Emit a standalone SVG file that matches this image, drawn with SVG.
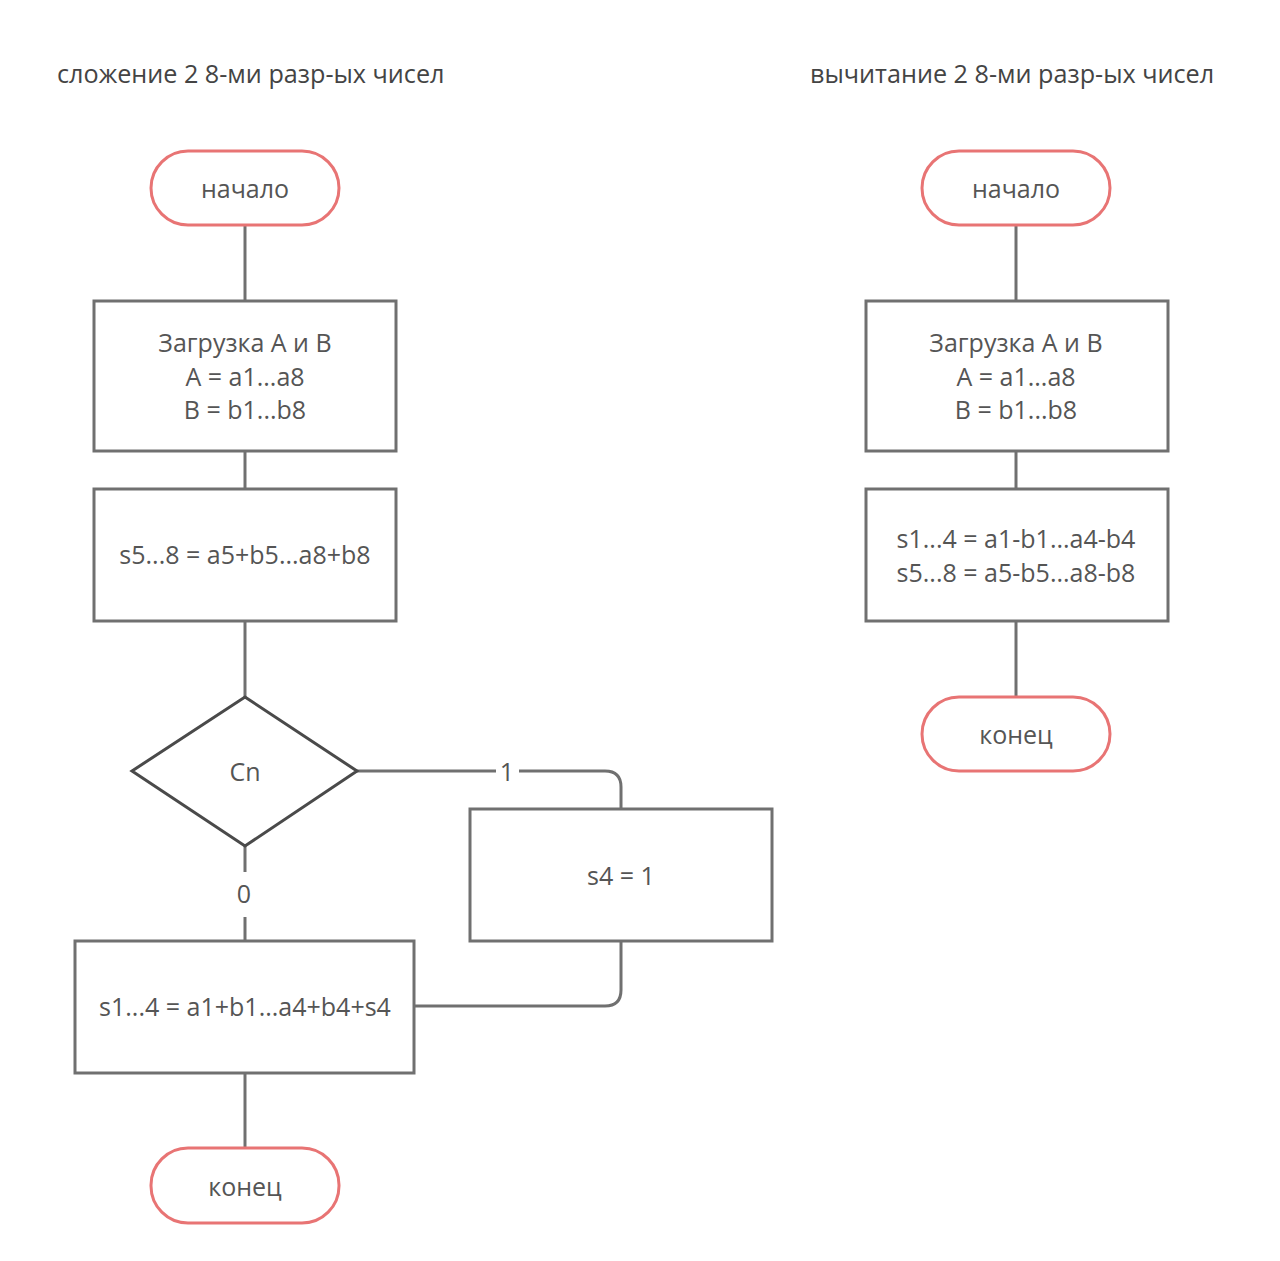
<svg xmlns="http://www.w3.org/2000/svg" width="1280" height="1261" viewBox="0 0 1280 1261">
  <style>
    text { font-family: "Open Sans", "Noto Sans", "DejaVu Sans", sans-serif; font-size: 25px; fill: #555; text-anchor: middle; dominant-baseline: central; }
    .title { text-anchor: start; fill: #444; font-size: 25.2px; }
    .term { fill: #fff; stroke: #e87474; stroke-width: 3; }
    .proc { fill: #fff; stroke: #707070; stroke-width: 3; }
    .dec { fill: #fff; stroke: #4a4a4a; stroke-width: 3; }
    .conn { fill: none; stroke: #707070; stroke-width: 3; }
    .lbl { fill: #555; }
  </style>
  <rect width="1280" height="1261" fill="#fff"/>

  <text class="title" x="57" y="73">сложение 2 8-ми разр-ых чисел</text>
  <text class="title" x="810" y="73">вычитание 2 8-ми разр-ых чисел</text>

  <g id="connectors">
    <!-- addition flow -->
    <path class="conn" d="M245 225 V301"/>
    <path class="conn" d="M245 451 V489"/>
    <path class="conn" d="M245 621 V697"/>
    <path class="conn" d="M357 771 H496 M519 771 H605 Q621 771 621 787 V809"/>
    <path class="conn" d="M245 846 V872 M245 917 V941"/>
    <path class="conn" d="M621 941 V990 Q621 1006 605 1006 H414"/>
    <path class="conn" d="M245 1073 V1148"/>
    <text class="lbl" x="507" y="771">1</text>
    <text class="lbl" x="244" y="893">0</text>
    <!-- subtraction flow -->
    <path class="conn" d="M1016 225 V301"/>
    <path class="conn" d="M1016 451 V489"/>
    <path class="conn" d="M1016 621 V697"/>
  </g>

  <g id="add-start">
    <rect class="term" x="151" y="151" width="188" height="74" rx="37"/>
    <text x="245" y="188">начало</text>
  </g>
  <g id="add-load">
    <rect class="proc" x="94" y="301" width="302" height="150"/>
    <text x="245" y="342">Загрузка А и В</text>
    <text x="245" y="376">А = а1...а8</text>
    <text x="245" y="409">В = b1...b8</text>
  </g>
  <g id="add-high">
    <rect class="proc" x="94" y="489" width="302" height="132"/>
    <text x="245" y="554">s5...8 = a5+b5...a8+b8</text>
  </g>
  <g id="add-carry">
    <polygon class="dec" points="245,697 357,771 245,846 132,771"/>
    <text x="245" y="771">Cn</text>
  </g>
  <g id="add-set-s4">
    <rect class="proc" x="470" y="809" width="302" height="132"/>
    <text x="621" y="875">s4 = 1</text>
  </g>
  <g id="add-low">
    <rect class="proc" x="75" y="941" width="339" height="132"/>
    <text x="245" y="1006">s1...4 = a1+b1...a4+b4+s4</text>
  </g>
  <g id="add-end">
    <rect class="term" x="151" y="1148" width="188" height="75" rx="37"/>
    <text x="245" y="1186">конец</text>
  </g>

  <g id="sub-start">
    <rect class="term" x="922" y="151" width="188" height="74" rx="37"/>
    <text x="1016" y="188">начало</text>
  </g>
  <g id="sub-load">
    <rect class="proc" x="866" y="301" width="302" height="150"/>
    <text x="1016" y="342">Загрузка А и В</text>
    <text x="1016" y="376">А = а1...а8</text>
    <text x="1016" y="409">В = b1...b8</text>
  </g>
  <g id="sub-calc">
    <rect class="proc" x="866" y="489" width="302" height="132"/>
    <text x="1016" y="538">s1...4 = a1-b1...a4-b4</text>
    <text x="1016" y="572">s5...8 = a5-b5...a8-b8</text>
  </g>
  <g id="sub-end">
    <rect class="term" x="922" y="697" width="188" height="74" rx="37"/>
    <text x="1016" y="734">конец</text>
  </g>
</svg>
